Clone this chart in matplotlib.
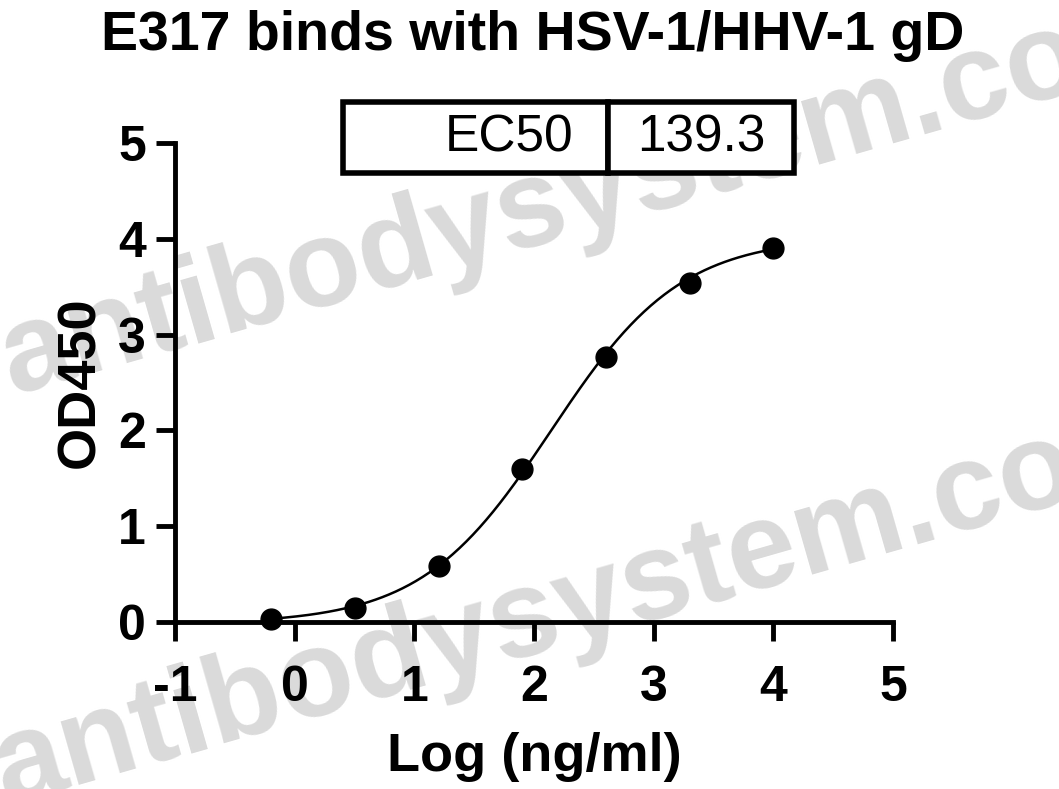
import numpy as np
import matplotlib.pyplot as plt

plt.rcParams['font.family'] = ['Liberation Sans', 'DejaVu Sans']
plt.rcParams['axes.unicode_minus'] = False

# measured points
log_conc = [-0.194, 0.505, 1.204, 1.903, 2.602, 3.301, 4.0]
od450 = [0.03, 0.15, 0.58, 1.60, 2.77, 3.54, 3.90]

# 4PL fit parameters (EC50 in ng/ml)
ec50 = 139.3
fit_bottom, fit_top, fit_hill = -0.02, 4.02, 0.8

xticks = [-1, 0, 1, 2, 3, 4, 5]
yticks = [0, 1, 2, 3, 4, 5]

W, H = 1059, 789
fig = plt.figure(figsize=(W / 100, H / 100), dpi=100)

# watermark (behind everything)
for px, py in [(12, 395), (5, 805)]:
    fig.text(px / W, 1 - py / H, "antibodysystem.com", fontsize=89, color='#dadada',
             fontweight='bold', rotation=16, rotation_mode='anchor',
             ha='left', va='baseline', zorder=-1)

ax = fig.add_axes([175 / W, 1 - 622 / H, 718 / W, 479 / H])
ax.patch.set_alpha(0)

xs = np.linspace(log_conc[0], log_conc[-1], 300)
curve = fit_bottom + (fit_top - fit_bottom) / (1 + 10 ** ((np.log10(ec50) - xs) * fit_hill))
ax.plot(xs, curve, color='black', lw=1.8, zorder=3)
ax.plot(log_conc, od450, 'o', color='black', ms=15, clip_on=False, zorder=4)

ax.set_xlim(-1, 5)
ax.set_ylim(0, 5)
ax.set_xticks(xticks)
ax.set_yticks(yticks)
ax.spines['top'].set_visible(False)
ax.spines['right'].set_visible(False)
for s in ['left', 'bottom']:
    ax.spines[s].set_linewidth(3.5)
ax.tick_params(width=3.5, length=14, labelsize=36)
ax.tick_params(axis='x', pad=17)
ax.tick_params(axis='y', pad=7)
for lab in ax.get_xticklabels() + ax.get_yticklabels():
    lab.set_fontweight('bold')

ax.set_xlabel("Log (ng/ml)", fontsize=39, fontweight='bold', va='center')
ax.set_ylabel("OD450", fontsize=39, fontweight='bold', va='center')
ax.xaxis.set_label_coords(0.5, (622 - 757) / 479)
ax.yaxis.set_label_coords((80 - 175) / 718, 0.5)
fig.text(533 / W, 1 - 36 / H, "E317 binds with HSV-1/HHV-1 gD", fontsize=40,
         fontweight='bold', ha='center', va='center')

# EC50 table
tab = ax.table(cellText=[["EC50", "%.1f" % ec50]], cellLoc='right',
               bbox=[(343 - 175) / 718, (622 - 173) / 479, 451 / 718, 71 / 479],
               colWidths=[265, 186])
tab.auto_set_font_size(False)
for (r, c), cell in tab.get_celld().items():
    cell.set_linewidth(4)
    cell.get_text().set_fontsize(37)
    if c == 1:
        cell._loc = 'center'
        cell.get_text().set_ha('center')
    else:
        cell.PAD = 0.13
tab.set_clip_on(False)

fig.savefig("out.png", dpi=100)
